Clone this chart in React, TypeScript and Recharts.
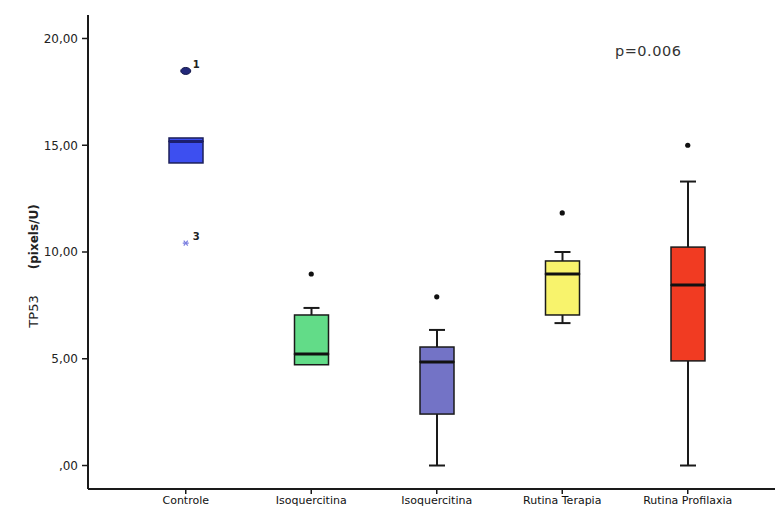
import React from 'react';
import { ComposedChart, Bar, Scatter, XAxis, YAxis } from 'recharts';

const groupKeys = ['controle', 'isoTerapia', 'isoProfilaxia', 'rutinaTerapia', 'rutinaProfilaxia'];
const labelTop = ['Controle', 'Isoquercitina', 'Isoquercitina', 'Rutina Terapia', 'Rutina Profilaxia'];
const labelBottom = ['', 'Terapia', 'Profilaxia', '', ''];

// box plot values (TP53, pixels/U)
const mins = [14.17, 4.72, 0, 6.67, 0];
const q1s = [14.17, 4.72, 2.41, 7.05, 4.9];
const medians = [15.18, 5.22, 4.85, 8.97, 8.45];
const q3s = [15.34, 7.05, 5.55, 9.58, 10.23];
const maxs = [15.34, 7.38, 6.35, 10.0, 13.3];
const outliers = [18.48, 8.97, 7.9, 11.83, 15.0];
const extremes = [10.42, null, null, null, null];
const outlierCases = ['1', '', '', '', ''];
const extremeCases = ['3', '', '', '', ''];

const yTicks = [0, 5, 10, 15, 20];

const boxColors = ['#3d4ff0', '#62dc88', '#7373c6', '#f8f36c', '#f13b22'];
const medianColors = ['#1c1f6e', '#111111', '#111111', '#111111', '#111111'];

const data = groupKeys.map((key, i) => ({
    key,
    idx: i,
    base: mins[i],
    lowWhisker: q1s[i] - mins[i],
    lowBox: medians[i] - q1s[i],
    highBox: q3s[i] - medians[i],
    highWhisker: maxs[i] - q3s[i],
    outlier: outliers[i],
    extreme: extremes[i],
}));

const FONT = '"DejaVu Sans", Verdana, sans-serif';
const INK = '#1a1a1a';

const LowWhisker = (props: any) => {
    const { x, y, width, height } = props;
    if (!height || height <= 0.5) return <g />;
    const cx = x + width / 2;
    return (
        <g>
            <line x1={cx} x2={cx} y1={y} y2={y + height} stroke={INK} strokeWidth={2} />
            <line x1={cx - 8} x2={cx + 8} y1={y + height} y2={y + height} stroke={INK} strokeWidth={2} />
        </g>
    );
};

const HighWhisker = (props: any) => {
    const { x, y, width, height } = props;
    if (!height || height <= 0.5) return <g />;
    const cx = x + width / 2;
    return (
        <g>
            <line x1={cx} x2={cx} y1={y} y2={y + height} stroke={INK} strokeWidth={2} />
            <line x1={cx - 8} x2={cx + 8} y1={y} y2={y} stroke={INK} strokeWidth={2} />
        </g>
    );
};

const LowBox = (props: any) => {
    const { x, y, width, height, payload } = props;
    const i = payload.idx;
    return (
        <rect x={x} y={y} width={width} height={Math.max(height, 0)} fill={boxColors[i]}
            stroke={i === 0 ? '#1c1f5a' : INK} strokeWidth={1.5} />
    );
};

const HighBox = (props: any) => {
    const { x, y, width, height, payload } = props;
    const i = payload.idx;
    return (
        <g>
            <rect x={x} y={y} width={width} height={Math.max(height, 0)} fill={boxColors[i]}
                stroke={i === 0 ? '#1c1f5a' : INK} strokeWidth={1.5} />
            <line x1={x} x2={x + width} y1={y + height} y2={y + height}
                stroke={medianColors[i]} strokeWidth={3} />
        </g>
    );
};

const OutlierShape = (props: any) => {
    const { cx, cy, payload } = props;
    if (payload == null || payload.outlier == null || !isFinite(cy)) return <g />;
    const i = payload.idx;
    if (outlierCases[i]) {
        return (
            <g>
                <ellipse cx={cx} cy={cy} rx={5} ry={3.5} fill="#23297a" stroke="#15184a" strokeWidth={1} />
                <text x={cx + 7} y={cy - 3} fontSize={10} fontWeight="bold" fontFamily={FONT} fill="#222">
                    {outlierCases[i]}
                </text>
            </g>
        );
    }
    return <circle cx={cx} cy={cy} r={2.6} fill="#111" />;
};

const ExtremeShape = (props: any) => {
    const { cx, cy, payload } = props;
    if (payload == null || payload.extreme == null || !isFinite(cy)) return <g />;
    const i = payload.idx;
    const c = '#7b7fe0';
    return (
        <g>
            <line x1={cx - 3} x2={cx + 3} y1={cy} y2={cy} stroke={c} strokeWidth={1.2} />
            <line x1={cx - 2} x2={cx + 2} y1={cy - 2.5} y2={cy + 2.5} stroke={c} strokeWidth={1.2} />
            <line x1={cx + 2} x2={cx - 2} y1={cy - 2.5} y2={cy + 2.5} stroke={c} strokeWidth={1.2} />
            <text x={cx + 7} y={cy - 3} fontSize={10} fontWeight="bold" fontFamily={FONT} fill="#222">
                {extremeCases[i]}
            </text>
        </g>
    );
};

const CategoryTick = (props: any) => {
    const { x, y, index } = props;
    return (
        <g>
            <text x={x} y={y} dy="0.71em" textAnchor="middle" fontSize={11} fontFamily={FONT} fill="#111">
                {labelTop[index]}
            </text>
            {labelBottom[index] && (
                <text x={x} y={y + 18} dy="0.71em" textAnchor="middle" fontSize={11} fontFamily={FONT} fill="#111">
                    {labelBottom[index]}
                </text>
            )}
        </g>
    );
};

const formatTick = (v: number) => (v === 0 ? ',00' : v.toFixed(2).replace('.', ','));

const YLabel = (props: any) => {
    const vb = props.viewBox;
    const cx = vb.x + 38;
    const cy = vb.y + vb.height / 2 + 14;
    return (
        <text transform={`translate(${cx},${cy}) rotate(-90)`} textAnchor="middle" fontFamily={FONT} fill="#222">
            <tspan fontSize={13}>TP53</tspan>
            <tspan dx={26} fontSize={12} fontWeight="bold">(pixels/U)</tspan>
        </text>
    );
};

export default function App() {
    return (
        <div style={{ position: 'absolute', left: 0, top: 0, width: 775, height: 514, background: '#fff', overflow: 'hidden' }}>
            <ComposedChart width={775} height={514} data={data} margin={{ top: 15, right: 0, bottom: 0, left: 0 }}>
                <XAxis
                    dataKey="key"
                    padding={{ left: 35, right: 24.5 }}
                    interval={0}
                    height={25}
                    tickSize={5}
                    tickMargin={2}
                    tick={<CategoryTick />}
                    tickLine={{ stroke: INK, strokeWidth: 1.5 }}
                    axisLine={{ stroke: INK, strokeWidth: 2 }}
                />
                <XAxis
                    xAxisId="top"
                    dataKey="key"
                    orientation="top"
                    height={0}
                    tick={false}
                    tickLine={false}
                    axisLine={{ stroke: INK, strokeWidth: 2 }}
                />
                <YAxis
                    type="number"
                    domain={[-1.1, 21.1]}
                    allowDataOverflow
                    ticks={yTicks}
                    tickFormatter={formatTick}
                    width={88}
                    tickSize={6}
                    tickMargin={4}
                    tick={{ fontSize: 12, fontFamily: FONT, fill: '#222' }}
                    tickLine={{ stroke: INK, strokeWidth: 1.5 }}
                    axisLine={{ stroke: INK, strokeWidth: 2 }}
                    label={{ content: (p: any) => <YLabel {...p} /> }}
                />
                <Bar dataKey="base" stackId="box" barSize={34} fill="transparent" isAnimationActive={false} />
                <Bar dataKey="lowWhisker" stackId="box" barSize={34} shape={<LowWhisker />} isAnimationActive={false} />
                <Bar dataKey="lowBox" stackId="box" barSize={34} shape={<LowBox />} isAnimationActive={false} />
                <Bar dataKey="highBox" stackId="box" barSize={34} shape={<HighBox />} isAnimationActive={false} />
                <Bar dataKey="highWhisker" stackId="box" barSize={34} shape={<HighWhisker />} isAnimationActive={false} />
                <Scatter dataKey="outlier" shape={<OutlierShape />} isAnimationActive={false} />
                <Scatter dataKey="extreme" shape={<ExtremeShape />} isAnimationActive={false} />
            </ComposedChart>
            <div style={{ position: 'absolute', left: 615, top: 43, fontFamily: FONT, fontSize: 14.5, color: '#333', letterSpacing: 0.5 }}>
                p=0.006
            </div>
        </div>
    );
}
